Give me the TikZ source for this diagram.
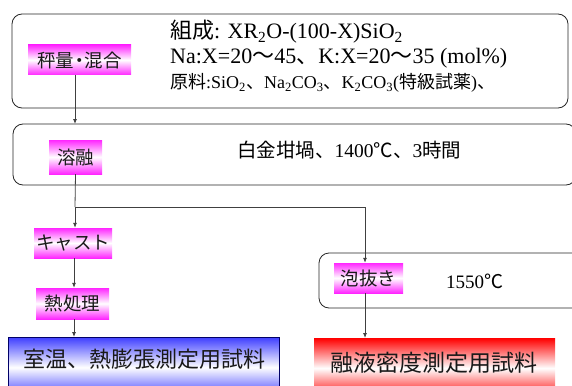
\documentclass[tikz,border=0pt]{standalone}
\usepackage{fontspec}
\setmainfont{Liberation Serif}
\newfontfamily\jp{Noto Sans CJK JP}
\usetikzlibrary{arrows.meta}
\definecolor{linegray}{HTML}{404040}
\tikzset{
  procbox/.style={draw=black!85, line width=0.8pt, rounded corners=10pt},
  tag/.style={inner sep=0pt, minimum height=30pt, top color=magenta!85, bottom color=magenta!85, middle color=white, font=\jp\fontsize{18.5}{18.5}\selectfont, text=black!90},
  desc/.style={anchor=west, inner sep=0pt, font=\fontsize{22}{22}\selectfont},
  flow/.style={draw=linegray, line width=0.8pt, -{Latex[length=5pt,width=4pt]}},
  plain/.style={draw=linegray, line width=0.8pt},
  outbox/.style={inner sep=0pt, font=\jp\fontsize{22}{22}\selectfont, text=black!90}
}
\begin{document}
\begin{tikzpicture}[x=1pt,y=-1pt]
\useasboundingbox (0,0) rectangle (572,385);
% process boxes
\draw[procbox] (12,14) rectangle (568,108);
\draw[procbox] (13,124) rectangle (576,185);
\draw[procbox] (319,253) rectangle (590,308);
% tags
\node[tag, minimum width=103pt] (mix) at (79.5,60) {秤量\kern-4pt・\kern-4pt混合};
\node[tag, minimum width=53pt, minimum height=34pt] (melt) at (75.5,157) {溶融};
\node[tag, minimum width=78pt] (cast) at (73,243) {キャスト};
\node[tag, minimum width=73pt, minimum height=31pt] (heat) at (72.5,303.5) {熱処理};
\node[tag, minimum width=69pt] (bubble) at (368.5,278) {泡抜き};
% texts
\node[desc] (t1) at (170,32) {{\jp 組成}: XR\textsubscript{2}O-(100-X)SiO\textsubscript{2}};
\node[desc] (t2) at (170,58) {Na:X=20{\jp 〜}45{\jp 、}K:X=20{\jp 〜}35 (mol\%)};
\node[desc, font=\fontsize{18}{18}\selectfont] (t3) at (170,83) {{\jp 原料}:SiO\textsubscript{2}{\jp 、}Na\textsubscript{2}CO\textsubscript{3}{\jp 、}K\textsubscript{2}CO\textsubscript{3}({\jp 特級試薬}){\jp 、}};
\node[desc, font=\fontsize{19.5}{19.5}\selectfont] (t4) at (237,150) {{\jp 白金坩堝、}1400{\jp ℃、}3{\jp 時間}};
\node[desc, font=\fontsize{19}{19}\selectfont] (t5) at (446,281) {1550{\jp ℃}};
% outputs
\node[outbox, draw=blue!40!black, line width=0.8pt, minimum width=271pt, minimum height=60pt, top color=blue!75!white, bottom color=blue!75!white, middle color=white, anchor=north west] (rt) at (8,337) {};
\node[outbox, anchor=center] (rtlabel) at (144,359) {室温、熱膨張測定用試料};
\node[outbox, minimum width=241pt, minimum height=60pt, top color=red, bottom color=red, middle color=white, anchor=north west] (ml) at (314,338) {};
\node[outbox, anchor=center, font=\jp\fontsize{23}{23}\selectfont] (mllabel) at (434,363) {融液密度測定用試料};
% connectors
\coordinate (split) at (75,207);
\coordinate (turn) at (365,207);
\draw[flow] (mix.south -| 75,0) -- (75,124);
\draw[plain] (melt.south) -- (split);
\draw[flow] (split) -- (cast.north -| split);
\draw[flow] (cast.south -| 74,0) -- (heat.north -| 74,0);
\draw[flow] (heat.south -| 74,0) -- (rt.north -| 74,0);
\draw[plain] (split) -- (turn);
\draw[flow] (turn) -- (bubble.north -| turn);
\draw[flow] (bubble.south -| turn) -- (ml.north -| turn);
\end{tikzpicture}
\end{document}
